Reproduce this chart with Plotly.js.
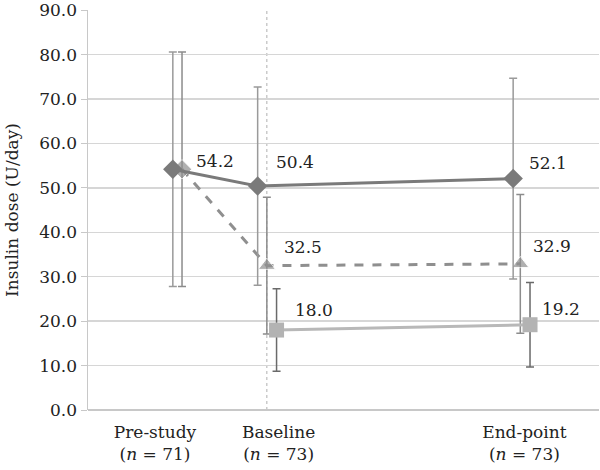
<!DOCTYPE html>
<html>
<head>
<meta charset="utf-8">
<script src="https://cdn.plot.ly/plotly-3.0.1.min.js"></script>
<style>html,body{margin:0;padding:0;background:#fff;}#chart{width:600px;height:470px;}</style>
</head>
<body>
<div id="chart"></div>
<script>
// Category tick positions and labels
var tickPositions = [1.31, 3.73, 8.54];
var tickLabels = ["Pre-study<br>(<i>n</i> = 71)", "Baseline<br>(<i>n</i> = 73)", "End-point<br>(<i>n</i> = 73)"];

// Series A (diamond, solid dark line)
var xA = [1.66, 3.32, 8.32];
var yA = [54.2, 50.4, 52.1];
var errA = [26.4, 22.3, 22.6];

// Series B (triangle, dashed line)
var xB = [1.84, 3.50, 8.46];
var yB = [54.2, 32.5, 32.9];
var errB = [26.4, 15.4, 15.6];

// Series C (square, light line)
var xC = [3.69, 8.65];
var yC = [18.0, 19.2];
var errC = [9.3, 9.5];

var baselineX = 3.50;

var font = "DejaVu Serif, serif";

var traces = [
  {
    x: xB, y: yB, type: "scatter", mode: "lines+markers",
    line: {color: "#8f8f8f", width: 3, dash: "dash"},
    marker: {symbol: ["diamond", "triangle-up", "triangle-up"], size: [15, 15, 15], color: "#8f8f8f"},
    error_y: {type: "data", array: errB, visible: true, color: "#8c8c8c", thickness: 1.5, width: 4},
    showlegend: false, hoverinfo: "skip"
  },
  {
    x: xA, y: yA, type: "scatter", mode: "lines+markers",
    line: {color: "#7a7a7a", width: 3},
    marker: {symbol: "diamond", size: 15, color: "#7a7a7a"},
    error_y: {type: "data", array: errA, visible: true, color: "#9a9a9a", thickness: 1.5, width: 4},
    showlegend: false, hoverinfo: "skip"
  },
  {
    x: xC, y: yC, type: "scatter", mode: "lines+markers",
    line: {color: "#b8b8b8", width: 3},
    marker: {symbol: "square", size: 15, color: "#b3b3b3"},
    error_y: {type: "data", array: errC, visible: true, color: "#6a6a6a", thickness: 1.5, width: 4},
    showlegend: false, hoverinfo: "skip"
  }
];

// Value labels: offsets from point in pixels
function lab(x, y, dx, dy) {
  return {x: x, y: y, xref: "x", yref: "y", text: y.toFixed(1), showarrow: false,
    xshift: dx, yshift: dy, font: {family: font, size: 17, color: "#222"}};
}
var annotations = [
  lab(xB[0], yA[0], 33, 8),
  lab(xA[1], yA[1], 37, 24),
  lab(xA[2], yA[2], 35, 16),
  lab(xB[1], yB[1], 36, 19),
  lab(xB[2], yB[2], 32, 18),
  lab(xC[0], yC[0], 37, 20),
  lab(xC[1], yC[1], 31, 16)
];

var layout = {
  width: 600, height: 470,
  margin: {l: 88, r: 1, t: 10, b: 60},
  paper_bgcolor: "#fff", plot_bgcolor: "#fff",
  font: {family: font, color: "#222"},
  xaxis: {
    range: [0, 10], showgrid: false, zeroline: false,
    tickvals: tickPositions, ticktext: tickLabels, ticks: "",
    tickfont: {family: font, size: 17, color: "#222"},
    ticklabelstandoff: 10,
    showline: false, fixedrange: true
  },
  yaxis: {
    range: [0, 90.05], tickvals: [0, 10, 20, 30, 40, 50, 60, 70, 80, 90], tickformat: ".1f",
    showgrid: true, gridcolor: "#d6d6d6", gridwidth: 1.5,
    zeroline: true, zerolinecolor: "#c8c8c8", zerolinewidth: 1.5,
    showline: true, linecolor: "#c8c8c8", linewidth: 1.5,
    ticks: "outside", ticklen: 6, tickcolor: "#c8c8c8",
    tickfont: {family: font, size: 17, color: "#222"},
    title: {text: "Insulin dose (U/day)", font: {family: font, size: 17, color: "#222"}, standoff: 16}
  },
  shapes: [
    {type: "line", xref: "x", yref: "paper", x0: baselineX, x1: baselineX, y0: 0, y1: 1,
     line: {color: "#b0b0b0", width: 1, dash: "dot"}, layer: "below"}
  ],
  annotations: annotations
};

Plotly.newPlot("chart", traces, layout, {displayModeBar: false, staticPlot: true});
</script>
</body>
</html>
